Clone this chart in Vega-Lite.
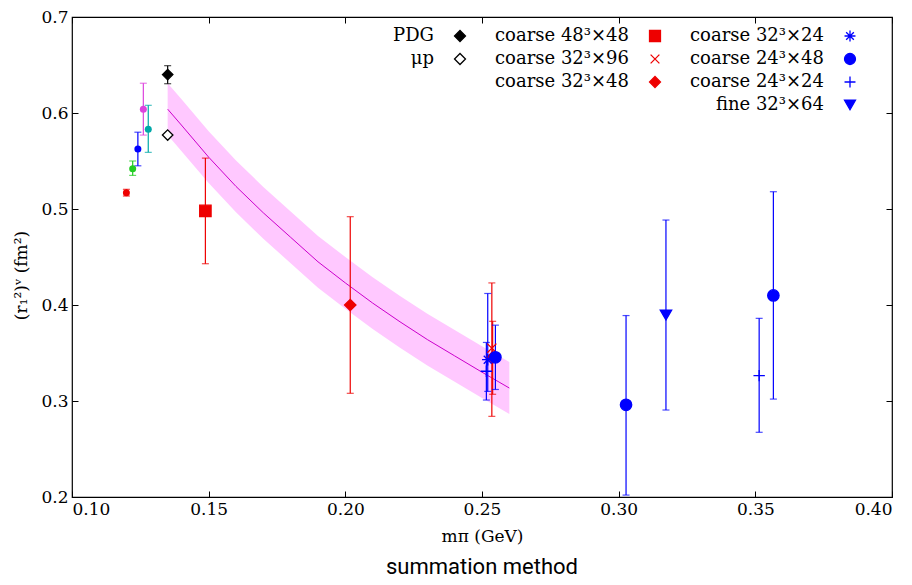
{
  "$schema": "https://vega.github.io/schema/vega-lite/v6.json",
  "width": 820,
  "height": 480,
  "autosize": {"type": "none"},
  "padding": {"left": 72, "top": 17, "right": 20, "bottom": 88},
  "background": "white",
  "title": {"text": "summation method", "orient": "bottom", "font": "Roboto", "fontSize": 22, "fontWeight": "normal", "color": "black", "anchor": "middle", "offset": 13},
  "config": {
    "view": {"stroke": "black", "strokeWidth": 1.2},
    "axis": {"grid": false, "domain": false, "tickColor": "black", "labelColor": "black", "titleColor": "black", "tickSize": -6, "tickWidth": 1},
    "legend": {"orient": "none", "direction": "vertical", "title": null, "labelAlign": "right", "labelOffset": -35, "labelFont": "DejaVu Serif", "labelFontSize": 18, "labelColor": "black", "labelLimit": 300, "rowPadding": 5, "symbolSize": 120, "symbolStrokeWidth": 1.3}
  },
  "datasets": {
    "fit": [
      {"x": 0.135, "c": 0.604, "lo": 0.577, "hi": 0.631},
      {"x": 0.14, "c": 0.5875, "lo": 0.5605, "hi": 0.6145},
      {"x": 0.15, "c": 0.554, "lo": 0.527, "hi": 0.581},
      {"x": 0.16, "c": 0.5235, "lo": 0.4965, "hi": 0.5505},
      {"x": 0.17, "c": 0.496, "lo": 0.469, "hi": 0.523},
      {"x": 0.18, "c": 0.4705, "lo": 0.4435, "hi": 0.4975},
      {"x": 0.19, "c": 0.445, "lo": 0.418, "hi": 0.472},
      {"x": 0.2, "c": 0.423, "lo": 0.396, "hi": 0.45},
      {"x": 0.21, "c": 0.402, "lo": 0.375, "hi": 0.429},
      {"x": 0.22, "c": 0.3825, "lo": 0.3555, "hi": 0.4095},
      {"x": 0.23, "c": 0.364, "lo": 0.337, "hi": 0.391},
      {"x": 0.24, "c": 0.347, "lo": 0.32, "hi": 0.374},
      {"x": 0.25, "c": 0.33, "lo": 0.303, "hi": 0.357},
      {"x": 0.26, "c": 0.3135, "lo": 0.2865, "hi": 0.3405}
    ],
    "others": [
      {"series": "other A", "x": 0.1199, "y": 0.517, "lo": 0.5135, "hi": 0.5205},
      {"series": "other B", "x": 0.1222, "y": 0.542, "lo": 0.535, "hi": 0.55},
      {"series": "other C", "x": 0.1241, "y": 0.5625, "lo": 0.545, "hi": 0.58},
      {"series": "other D", "x": 0.1261, "y": 0.604, "lo": 0.577, "hi": 0.631},
      {"series": "other E", "x": 0.1279, "y": 0.583, "lo": 0.559, "hi": 0.608}
    ],
    "main": [
      {"series": "PDG", "x": 0.135, "y": 0.64, "lo": 0.6305, "hi": 0.6493},
      {"series": "μp", "x": 0.135, "y": 0.577, "lo": 0.5755, "hi": 0.5785},
      {"series": "coarse 48³×48", "x": 0.1488, "y": 0.498, "lo": 0.443, "hi": 0.553},
      {"series": "coarse 32³×96", "x": 0.2536, "y": 0.355, "lo": 0.284, "hi": 0.423},
      {"series": "coarse 32³×48", "x": 0.2018, "y": 0.4, "lo": 0.308, "hi": 0.492},
      {"series": "coarse 32³×48", "x": 0.2539, "y": 0.3455, "lo": 0.307, "hi": 0.383},
      {"series": "coarse 32³×24", "x": 0.2521, "y": 0.343, "lo": 0.31, "hi": 0.412},
      {"series": "coarse 24³×48", "x": 0.2549, "y": 0.3455, "lo": 0.312, "hi": 0.379},
      {"series": "coarse 24³×48", "x": 0.3027, "y": 0.296, "lo": 0.202, "hi": 0.389},
      {"series": "coarse 24³×48", "x": 0.3566, "y": 0.41, "lo": 0.302, "hi": 0.518},
      {"series": "coarse 24³×24", "x": 0.2516, "y": 0.331, "lo": 0.301, "hi": 0.361},
      {"series": "coarse 24³×24", "x": 0.3514, "y": 0.3264, "lo": 0.2674, "hi": 0.3861},
      {"series": "fine 32³×64", "x": 0.3173, "y": 0.3896, "lo": 0.2906, "hi": 0.4885}
    ]
  },
  "resolve": {"axis": {"x": "independent", "y": "independent"}, "scale": {"fill": "independent", "stroke": "independent", "shape": "independent"}},
  "layer": [
    {
      "data": {"name": "fit"},
      "mark": {"type": "area", "color": "#ffc8ff", "opacity": 1},
      "encoding": {
        "x": {"field": "x", "type": "quantitative", "scale": {"domain": [0.1, 0.4], "nice": false, "zero": false},
              "axis": {"orient": "bottom", "values": [0.1, 0.15, 0.2, 0.25, 0.3, 0.35, 0.4], "format": ".2f", "labelPadding": 10, "title": "mπ (GeV)", "titlePadding": 11, "labelFont": "DejaVu Serif", "labelFontSize": 17, "titleFont": "DejaVu Serif", "titleFontSize": 17, "titleFontWeight": "normal"}},
        "y": {"field": "lo", "type": "quantitative", "scale": {"domain": [0.2, 0.7], "nice": false, "zero": false},
              "axis": {"orient": "left", "values": [0.2, 0.3, 0.4, 0.5, 0.6, 0.7], "format": ".1f", "labelPadding": 10, "title": "(r₁²)ᵛ (fm²)", "titlePadding": 10, "titleY": 258, "labelFont": "DejaVu Serif", "labelFontSize": 17, "titleFont": "DejaVu Serif", "titleFontSize": 17, "titleFontWeight": "normal"}},
        "y2": {"field": "hi"}
      }
    },
    {
      "data": {"name": "fit"},
      "mark": {"type": "line", "color": "#cc00cc", "strokeWidth": 1},
      "encoding": {
        "x": {"field": "x", "type": "quantitative", "axis": {"orient": "top", "values": [0.1, 0.15, 0.2, 0.25, 0.3, 0.35, 0.4], "labels": false, "title": null}},
        "y": {"field": "c", "type": "quantitative", "axis": {"orient": "right", "values": [0.2, 0.3, 0.4, 0.5, 0.6, 0.7], "labels": false, "title": null}}
      }
    },
    {
      "data": {"name": "others"},
      "mark": {"type": "rule", "strokeWidth": 1.2},
      "encoding": {
        "x": {"field": "x", "type": "quantitative", "axis": null},
        "y": {"field": "lo", "type": "quantitative", "axis": null},
        "y2": {"field": "hi"},
        "color": {"field": "series", "type": "nominal", "legend": null,
                  "scale": {"domain": ["other A", "other B", "other C", "other D", "other E", "PDG", "μp", "coarse 48³×48", "coarse 32³×96", "coarse 32³×48", "coarse 32³×24", "coarse 24³×48", "coarse 24³×24", "fine 32³×64"],
                            "range": ["#ee0000", "#22cc22", "#0000ff", "#dd44dd", "#00a8a8", "#000000", "#000000", "#ee0000", "#ee0000", "#ee0000", "#0000ff", "#0000ff", "#0000ff", "#0000ff"]}}
      }
    },
    {
      "data": {"name": "others"},
      "mark": {"type": "tick", "orient": "horizontal", "size": 7, "thickness": 1.2},
      "encoding": {
        "x": {"field": "x", "type": "quantitative", "axis": null},
        "y": {"field": "lo", "type": "quantitative", "axis": null},
        "color": {"field": "series", "type": "nominal", "legend": null}
      }
    },
    {
      "data": {"name": "others"},
      "mark": {"type": "tick", "orient": "horizontal", "size": 7, "thickness": 1.2},
      "encoding": {
        "x": {"field": "x", "type": "quantitative", "axis": null},
        "y": {"field": "hi", "type": "quantitative", "axis": null},
        "color": {"field": "series", "type": "nominal", "legend": null}
      }
    },
    {
      "data": {"name": "others"},
      "mark": {"type": "point", "shape": "circle", "filled": true, "size": 49, "opacity": 1},
      "encoding": {
        "x": {"field": "x", "type": "quantitative", "axis": null},
        "y": {"field": "y", "type": "quantitative", "axis": null},
        "color": {"field": "series", "type": "nominal", "legend": null}
      }
    },
    {
      "data": {"name": "main"},
      "mark": {"type": "rule", "strokeWidth": 1.2},
      "encoding": {
        "x": {"field": "x", "type": "quantitative", "axis": null},
        "y": {"field": "lo", "type": "quantitative", "axis": null},
        "y2": {"field": "hi"},
        "color": {"field": "series", "type": "nominal", "legend": null}
      }
    },
    {
      "data": {"name": "main"},
      "mark": {"type": "tick", "orient": "horizontal", "size": 7, "thickness": 1.2},
      "encoding": {
        "x": {"field": "x", "type": "quantitative", "axis": null},
        "y": {"field": "lo", "type": "quantitative", "axis": null},
        "color": {"field": "series", "type": "nominal", "legend": null}
      }
    },
    {
      "data": {"name": "main"},
      "mark": {"type": "tick", "orient": "horizontal", "size": 7, "thickness": 1.2},
      "encoding": {
        "x": {"field": "x", "type": "quantitative", "axis": null},
        "y": {"field": "hi", "type": "quantitative", "axis": null},
        "color": {"field": "series", "type": "nominal", "legend": null}
      }
    },
    {
      "data": {"name": "main"},
      "transform": [{"filter": {"field": "series", "oneOf": ["PDG", "μp"]}}],
      "mark": {"type": "point", "size": 110, "strokeWidth": 1.3, "opacity": 1},
      "encoding": {
        "x": {"field": "x", "type": "quantitative", "axis": null},
        "y": {"field": "y", "type": "quantitative", "axis": null},
        "fill": {"field": "series", "type": "nominal", "scale": {"domain": ["PDG", "μp"], "range": ["#000000", "#ffffff"]},
                 "legend": {"legendX": 379, "legendY": 10}},
        "stroke": {"field": "series", "type": "nominal", "scale": {"domain": ["PDG", "μp"], "range": ["#000000", "#000000"]},
                   "legend": {"legendX": 379, "legendY": 10}},
        "shape": {"field": "series", "type": "nominal", "scale": {"domain": ["PDG", "μp"], "range": ["diamond", "diamond"]},
                  "legend": {"legendX": 379, "legendY": 10}}
      }
    },
    {
      "data": {"name": "main"},
      "transform": [{"filter": {"field": "series", "oneOf": ["coarse 48³×48", "coarse 32³×96", "coarse 32³×48"]}}],
      "mark": {"type": "point", "size": 130, "strokeWidth": 1.3, "opacity": 1},
      "encoding": {
        "x": {"field": "x", "type": "quantitative", "axis": null},
        "y": {"field": "y", "type": "quantitative", "axis": null},
        "fill": {"field": "series", "type": "nominal", "scale": {"domain": ["coarse 48³×48", "coarse 32³×96", "coarse 32³×48"], "range": ["#ee0000", "transparent", "#ee0000"]},
                 "legend": {"legendX": 574, "legendY": 10}},
        "stroke": {"field": "series", "type": "nominal", "scale": {"domain": ["coarse 48³×48", "coarse 32³×96", "coarse 32³×48"], "range": ["#ee0000", "#ee0000", "#ee0000"]},
                   "legend": {"legendX": 574, "legendY": 10}},
        "shape": {"field": "series", "type": "nominal", "scale": {"domain": ["coarse 48³×48", "coarse 32³×96", "coarse 32³×48"], "range": ["square", "M-0.8,-0.8L0.8,0.8M-0.8,0.8L0.8,-0.8", "diamond"]},
                  "legend": {"legendX": 574, "legendY": 10}}
      }
    },
    {
      "data": {"name": "main"},
      "transform": [{"filter": {"field": "series", "oneOf": ["coarse 32³×24", "coarse 24³×48", "coarse 24³×24", "fine 32³×64"]}}],
      "mark": {"type": "point", "size": 130, "strokeWidth": 1.3, "opacity": 1},
      "encoding": {
        "x": {"field": "x", "type": "quantitative", "axis": null},
        "y": {"field": "y", "type": "quantitative", "axis": null},
        "fill": {"field": "series", "type": "nominal", "scale": {"domain": ["coarse 32³×24", "coarse 24³×48", "coarse 24³×24", "fine 32³×64"], "range": ["transparent", "#0000ff", "transparent", "#0000ff"]},
                 "legend": {"legendX": 769, "legendY": 10}},
        "stroke": {"field": "series", "type": "nominal", "scale": {"domain": ["coarse 32³×24", "coarse 24³×48", "coarse 24³×24", "fine 32³×64"], "range": ["#0000ff", "#0000ff", "#0000ff", "#0000ff"]},
                   "legend": {"legendX": 769, "legendY": 10}},
        "shape": {"field": "series", "type": "nominal", "scale": {"domain": ["coarse 32³×24", "coarse 24³×48", "coarse 24³×24", "fine 32³×64"], "range": ["M-1,0L1,0M0,-1L0,1M-0.7,-0.7L0.7,0.7M-0.7,0.7L0.7,-0.7", "circle", "M-1,0L1,0M0,-1L0,1", "triangle-down"]},
                  "legend": {"legendX": 769, "legendY": 10}}
      }
    }
  ]
}
